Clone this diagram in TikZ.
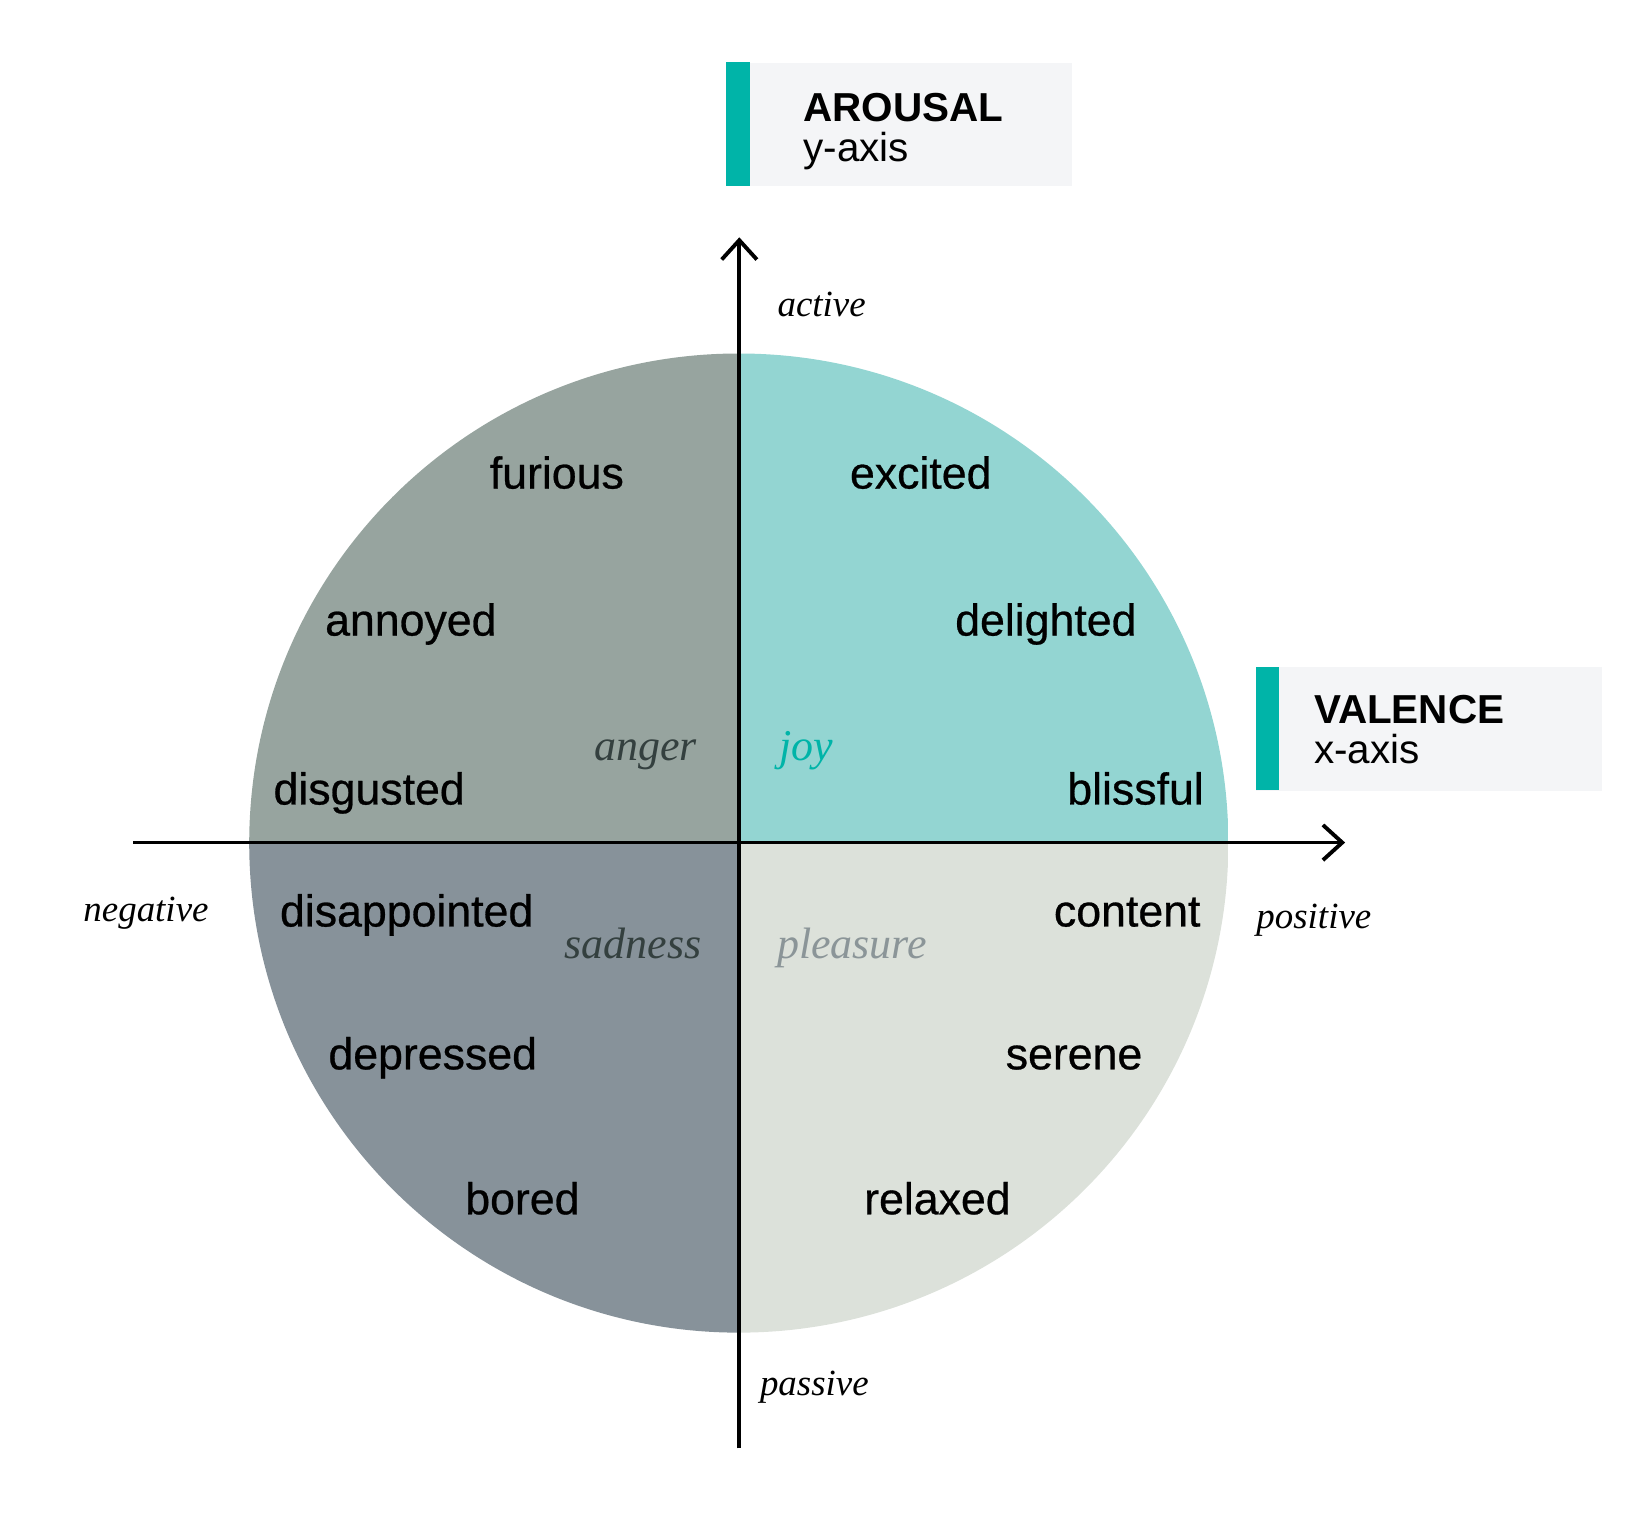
\documentclass[tikz,border=0pt]{standalone}
\usepackage{fontspec}
\newfontfamily\wordfont[FakeBold=0.6]{Liberation Sans}
\newfontfamily\panelfont{Liberation Sans}
\newfontfamily\notefont{Liberation Serif}
\usepackage{xcolor}
\definecolor{colAnger}{HTML}{97A49F}
\definecolor{colJoy}{HTML}{93D5D2}
\definecolor{colSadness}{HTML}{87929A}
\definecolor{colPleasure}{HTML}{DCE1DA}
\definecolor{colAccent}{HTML}{00B4A8}
\definecolor{colPanel}{HTML}{F4F5F7}
\definecolor{colDarkNote}{HTML}{34403F}
\definecolor{colGreyNote}{HTML}{8B9598}
\usetikzlibrary{arrows.meta}
\tikzset{
	wordnode/.style={anchor=base, inner sep=0pt, font=\wordfont\fontsize{12.7}{15}\selectfont},
	moodlabel/.style={anchor=base, inner sep=0pt, font=\notefont\itshape\fontsize{12.5}{15}\selectfont, text=#1},
	polelabel/.style={anchor=base, inner sep=0pt, font=\notefont\itshape\fontsize{10.5}{13}\selectfont},
	axisarr/.style={line width=1.1pt, -{Straight Barb[length=5.5pt, width=10pt, line width=1.1pt]}},
	panelbox/.style={fill=colPanel, anchor=north west, minimum width=3.45cm, minimum height=1.23cm, inner sep=0pt},
	panelhead/.style={anchor=base west, inner sep=0pt, font=\panelfont\bfseries\fontsize{11.5}{12}\selectfont},
	panelsub/.style={anchor=base west, inner sep=0pt, font=\panelfont\fontsize{11.5}{12}\selectfont},
}

\begin{document}
\begin{tikzpicture}[x=0.010427cm, y=-0.010427cm]
	\useasboundingbox (0,0) rectangle (1568,1451);
	\coordinate (o) at (708.5,808.5);
	\begin{scope}
		\clip (o) circle[radius=469.5];
		\fill[colAnger] (o) rectangle ++(-470,-470);
		\fill[colJoy] (o) rectangle ++(470,-470);
		\fill[colSadness] (o) rectangle ++(-470,470);
		\fill[colPleasure] (o) rectangle ++(470,470);
	\end{scope}

	\coordinate (xneg) at (127.6,808);
	\coordinate (xpos) at (1290,808);
	\coordinate (yneg) at (709,1389);
	\coordinate (ypos) at (709,227.6);
	\draw[axisarr] (xneg) -- (xpos);
	\draw[axisarr] (yneg) -- (ypos);

	\node[panelbox] (arousalbox) at (696.3,59.8) {};
	\fill[colAccent] (arousalbox.north west) rectangle ++(22.7,118.6);
	\node[panelhead] (arousal) at (769.8,116.7) {AROUSAL};
	\node[panelsub] (yaxis) at (769.8,155) {y-axis};
	\node[panelbox] (valencebox) at (1204.3,639.4) {};
	\fill[colAccent] (valencebox.north west) rectangle ++(22.7,118.2);
	\node[panelhead] (valence) at (1259.5,693.7) {VALENCE};
	\node[panelsub] (xaxis) at (1259.5,732) {x-axis};

	\node[polelabel] (active) at (788,303.7) {active};
	\node[polelabel] (passive) at (781,1338) {passive};
	\node[polelabel] (negative) at (140,884) {negative};
	\node[polelabel] (positive) at (1260,890) {positive};

	\node[moodlabel=colDarkNote] (anger) at (619,729.5) {anger};
	\node[moodlabel=colAccent] (joy) at (773,729.5) {joy};
	\node[moodlabel=colDarkNote] (sadness) at (607,918.8) {sadness};
	\node[moodlabel=colGreyNote] (pleasure) at (817,918.8) {pleasure};

	\node[wordnode] (furious) at (534,468.5) {furious};
	\node[wordnode] (excited) at (883,468.5) {excited};
	\node[wordnode] (annoyed) at (394,609.5) {annoyed};
	\node[wordnode] (delighted) at (1003,609.5) {delighted};
	\node[wordnode] (disgusted) at (354,771.5) {disgusted};
	\node[wordnode] (blissful) at (1089,771.5) {blissful};
	\node[wordnode] (disappointed) at (390,888.5) {disappointed};
	\node[wordnode] (content) at (1081,888.5) {content};
	\node[wordnode] (depressed) at (415,1025.5) {depressed};
	\node[wordnode] (serene) at (1030,1025.5) {serene};
	\node[wordnode] (bored) at (501,1164.5) {bored};
	\node[wordnode] (relaxed) at (899,1164.5) {relaxed};
\end{tikzpicture}
\end{document}
